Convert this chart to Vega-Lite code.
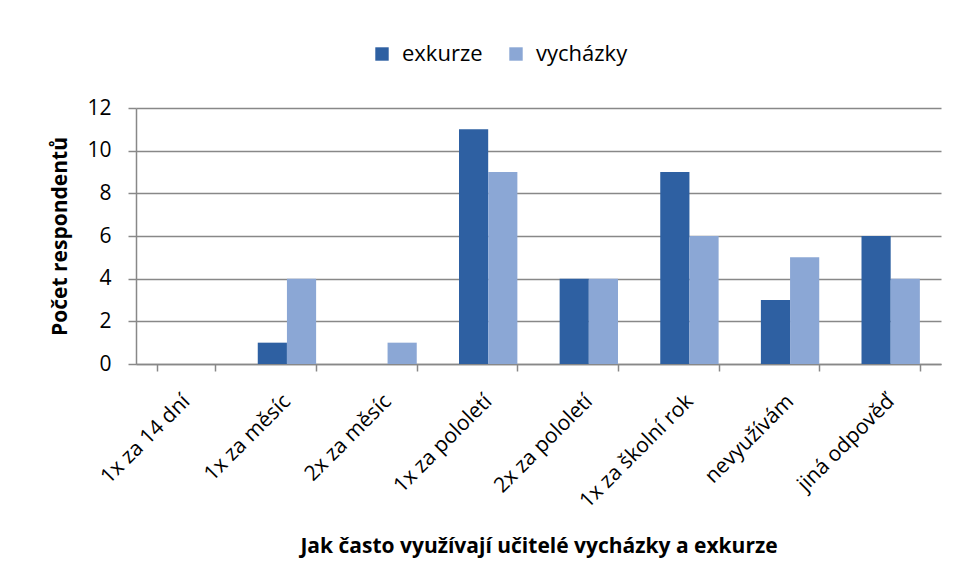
{
  "$schema": "https://vega.github.io/schema/vega-lite/v6.json",
  "width": 805,
  "height": 256,
  "autosize": {"type": "none"},
  "padding": {"left": 136, "top": 108, "right": 17, "bottom": 221},
  "background": "white",
  "data": {
    "values": [
      {"kategorie": "1x za 14 dní", "serie": "exkurze", "pocet": 0},
      {"kategorie": "1x za 14 dní", "serie": "vycházky", "pocet": 0},
      {"kategorie": "1x za měsíc", "serie": "exkurze", "pocet": 1},
      {"kategorie": "1x za měsíc", "serie": "vycházky", "pocet": 4},
      {"kategorie": "2x za měsíc", "serie": "exkurze", "pocet": 0},
      {"kategorie": "2x za měsíc", "serie": "vycházky", "pocet": 1},
      {"kategorie": "1x za pololetí", "serie": "exkurze", "pocet": 11},
      {"kategorie": "1x za pololetí", "serie": "vycházky", "pocet": 9},
      {"kategorie": "2x za pololetí", "serie": "exkurze", "pocet": 4},
      {"kategorie": "2x za pololetí", "serie": "vycházky", "pocet": 4},
      {"kategorie": "1x za školní rok", "serie": "exkurze", "pocet": 9},
      {"kategorie": "1x za školní rok", "serie": "vycházky", "pocet": 6},
      {"kategorie": "nevyužívám", "serie": "exkurze", "pocet": 3},
      {"kategorie": "nevyužívám", "serie": "vycházky", "pocet": 5},
      {"kategorie": "jiná odpověď", "serie": "exkurze", "pocet": 6},
      {"kategorie": "jiná odpověď", "serie": "vycházky", "pocet": 4}
    ]
  },
  "mark": {"type": "bar"},
  "encoding": {
    "x": {
      "field": "kategorie",
      "type": "nominal",
      "sort": null,
      "scale": {"paddingInner": 0.42, "paddingOuter": 0.21},
      "axis": {
        "title": "Jak často využívají učitelé vycházky a exkurze",
        "labelAngle": -45,
        "labelAlign": "right",
        "labelBaseline": "middle",
        "labelPadding": 27,
        "labelFontSize": 21,
        "tickBand": "extent",
        "tickSize": 7,
        "titlePadding": 24
      }
    },
    "xOffset": {"field": "serie", "type": "nominal", "sort": ["exkurze", "vycházky"]},
    "y": {
      "field": "pocet",
      "type": "quantitative",
      "scale": {"domain": [0, 12], "nice": false},
      "axis": {
        "title": "Počet respondentů",
        "values": [0, 2, 4, 6, 8, 10, 12],
        "tickSize": 8,
        "labelPadding": 17,
        "titlePadding": 16
      }
    },
    "color": {
      "field": "serie",
      "type": "nominal",
      "sort": ["exkurze", "vycházky"],
      "scale": {"domain": ["exkurze", "vycházky"], "range": ["#2e60a2", "#8ba7d5"]},
      "legend": {
        "title": null,
        "orient": "none",
        "direction": "horizontal",
        "legendX": 235,
        "legendY": -65,
        "symbolType": "square",
        "symbolSize": 180,
        "symbolStrokeWidth": 0,
        "labelFontSize": 22,
        "labelOffset": 9,
        "columnPadding": 22
      }
    }
  },
  "config": {
    "font": "Open Sans",
    "view": {"stroke": null},
    "axis": {
      "labelFont": "Open Sans",
      "labelFontSize": 21,
      "labelColor": "#000",
      "titleFont": "Open Sans",
      "titleFontSize": 21,
      "titleFontWeight": "bold",
      "titleColor": "#000",
      "domainColor": "#888",
      "domainWidth": 1.5,
      "tickColor": "#888",
      "tickWidth": 1.5,
      "gridColor": "#888",
      "gridWidth": 1.5
    },
    "axisX": {"grid": false},
    "axisY": {"grid": true},
    "legend": {"labelFont": "Open Sans", "labelColor": "#000"}
  }
}
